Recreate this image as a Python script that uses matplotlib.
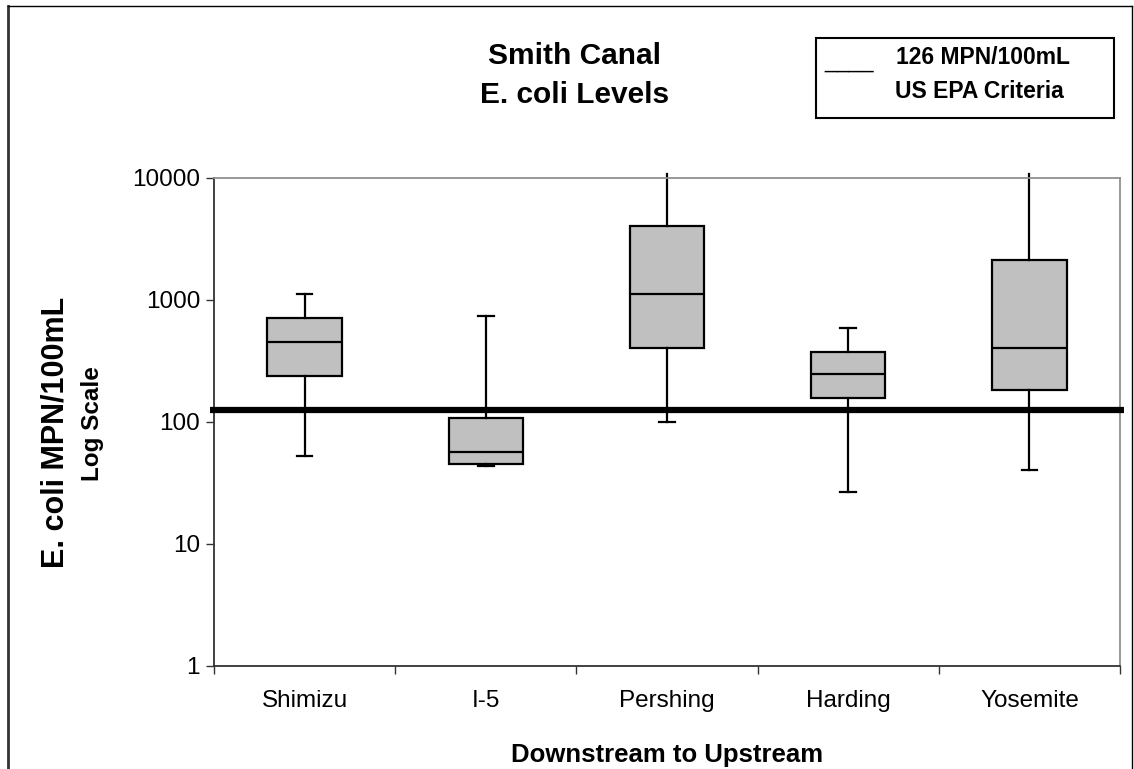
import matplotlib.pyplot as plt
from matplotlib.lines import Line2D

plt.rcParams['font.family'] = ['Liberation Sans', 'DejaVu Sans']

# box plot stats (MPN/100mL)
sites = ['Shimizu', 'I-5', 'Pershing', 'Harding', 'Yosemite']
whis_lo = [52.6, 43.6, 100, 26.7, 40.4]
q1 = [238, 45.3, 404, 157, 183]
median = [453, 56.8, 1120, 247, 404]
q3 = [712, 108, 4040, 375, 2128]
whis_hi = [1120, 739, 10800, 589, 10800]
criteria = 126
yticks = [1, 10, 100, 1000, 10000]

W, H = 1134, 769
fig = plt.figure(figsize=(W / 100, H / 100), dpi=100)
ax = fig.add_axes([214 / W, 1 - 666 / H, (1120 - 214) / W, (666 - 178) / H])

stats = []
for i in range(len(sites)):
    stats.append(dict(med=median[i], q1=q1[i], q3=q3[i],
                      whislo=whis_lo[i], whishi=whis_hi[i], fliers=[]))

pos = list(range(1, len(sites) + 1))
bp = ax.bxp(stats, positions=pos, widths=0.41, capwidths=0.085,
            patch_artist=True, showfliers=False,
            boxprops=dict(facecolor='#C0C0C0', edgecolor='black', linewidth=1.6),
            medianprops=dict(color='black', linewidth=1.6),
            whiskerprops=dict(color='black', linewidth=1.6),
            capprops=dict(color='black', linewidth=1.6))

for w in bp['whiskers']:
    w.set_clip_on(False)
# caps above the axis top are not shown
for i, c in enumerate(bp['caps']):
    if i % 2 == 1 and whis_hi[i // 2] > 10000:
        c.set_visible(False)

ax.plot([0.478, 5.522], [criteria, criteria], color='black', lw=4.5,
        clip_on=False, solid_capstyle='butt', zorder=5)

ax.set_yscale('log')
ax.set_ylim(1, 10000)
ax.set_xlim(0.5, 5.5)
ax.set_yticks(yticks)
ax.set_yticklabels([str(v) for v in yticks])
ax.minorticks_off()
ax.tick_params(axis='y', direction='out', length=6, width=1, color='#333333',
               labelsize=17.5, pad=4)

ax.set_xticks([p - 0.5 for p in pos] + [5.5])
ax.set_xticklabels([])
ax.set_xticks(pos, minor=True)
ax.set_xticklabels(sites, minor=True)
ax.tick_params(axis='x', which='major', direction='out', length=6, width=1,
               color='#333333')
ax.tick_params(axis='x', which='minor', length=0, labelsize=17.5, pad=17)

for s in ['left', 'bottom']:
    ax.spines[s].set_color('#333333')
    ax.spines[s].set_linewidth(1.3)
for s in ['top', 'right']:
    ax.spines[s].set_color('#909090')
    ax.spines[s].set_linewidth(1.3)

# titles and labels
fig.text(575 / W, 1 - 56 / H, 'Smith Canal', ha='center', va='center',
         fontsize=21.5, fontweight='bold')
fig.text(575 / W, 1 - 95 / H, 'E. coli Levels', ha='center', va='center',
         fontsize=21.5, fontweight='bold')
fig.text(56 / W, 1 - 432 / H, 'E. coli MPN/100mL', rotation=90, ha='center',
         va='center', fontsize=22, fontweight='bold')
fig.text(92 / W, 1 - 424 / H, 'Log Scale', rotation=90, ha='center',
         va='center', fontsize=17.5, fontweight='bold')
fig.text(667 / W, 1 - 755 / H, 'Downstream to Upstream', ha='center',
         va='center', fontsize=18.5, fontweight='bold')

# legend box
leg = plt.Rectangle((816 / W, 1 - 118 / H), (1114 - 816) / W, (118 - 38) / H,
                    transform=fig.transFigure, fill=False, edgecolor='black',
                    linewidth=1.5)
fig.add_artist(leg)
fig.text(824 / W, 1 - 62 / H, '____', ha='left', va='center', fontsize=16)
fig.text(896 / W, 1 - 57 / H, '126 MPN/100mL', ha='left', va='center',
         fontsize=16.5, fontweight='bold')
fig.text(895 / W, 1 - 92 / H, 'US EPA Criteria', ha='left', va='center',
         fontsize=16.5, fontweight='bold')

# chart border
fig.add_artist(Line2D([8 / W, 8 / W], [0, 1 - 6 / H], color='#333333', lw=2,
                      transform=fig.transFigure))
fig.add_artist(Line2D([8 / W, 1132 / W], [1 - 6 / H, 1 - 6 / H], color='black',
                      lw=1, transform=fig.transFigure))
fig.add_artist(Line2D([1132 / W, 1132 / W], [0, 1 - 6 / H], color='black',
                      lw=1, transform=fig.transFigure))

fig.savefig('out.png', dpi=100)
